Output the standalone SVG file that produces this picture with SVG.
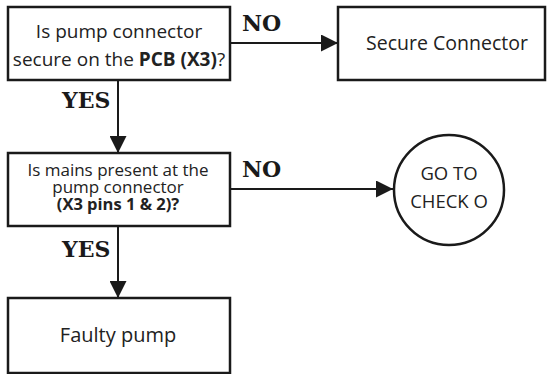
<svg xmlns="http://www.w3.org/2000/svg" width="556" height="374" viewBox="0 0 556 374">
<style>
.box{fill:#fff;stroke:#1a1a1a;stroke-width:2.5}
.ln{stroke:#1a1a1a;stroke-width:2;fill:none}
.t{font-family:"Open Sans","Noto Sans",sans-serif;font-size:19px;fill:#222;text-anchor:middle}
.b{font-weight:bold}
.lab{font-family:"DejaVu Serif","Liberation Serif",serif;font-weight:bold;font-size:22px;fill:#1a1a1a}
</style>
<defs>
<marker id="ah" viewBox="0 0 10 10" refX="10" refY="5" markerWidth="17" markerHeight="17" markerUnits="userSpaceOnUse" orient="auto">
<path d="M0,0 L10,5 L0,10 Z" fill="#1a1a1a"/>
</marker>
</defs>
<g id="connectors">
<line class="ln" x1="230" y1="43" x2="338" y2="43" marker-end="url(#ah)"/>
<line class="ln" x1="118" y1="80" x2="118" y2="153" marker-end="url(#ah)"/>
<line class="ln" x1="230" y1="189" x2="393" y2="189" marker-end="url(#ah)"/>
<line class="ln" x1="118" y1="226" x2="118" y2="298" marker-end="url(#ah)"/>
<text class="lab" x="242" y="31">NO</text>
<text class="lab" x="62" y="108">YES</text>
<text class="lab" x="242" y="177">NO</text>
<text class="lab" x="62" y="257">YES</text>
</g>
<g id="q1">
<rect class="box" x="8" y="7" width="222" height="73"/>
<text class="t" x="119" y="38">Is pump connector</text>
<text class="t" x="119" y="66">secure on the <tspan class="b">PCB (X3)</tspan>?</text>
</g>
<g id="secure">
<rect class="box" x="338" y="7" width="207" height="73"/>
<text class="t" x="447" y="50" style="font-size:19.5px">Secure Connector</text>
</g>
<g id="q2">
<rect class="box" x="8" y="153" width="222" height="73"/>
<text class="t" x="118" y="176" style="font-size:17px">Is mains present at the</text>
<text class="t" x="118" y="193" style="font-size:17px">pump connector</text>
<text class="t b" x="118" y="210" style="font-size:16.5px">(X3 pins 1 &amp; 2)?</text>
</g>
<g id="check">
<circle class="box" cx="449" cy="190" r="55"/>
<text class="t" x="449" y="180" style="font-size:18.5px">GO TO</text>
<text class="t" x="449" y="208" style="font-size:18.5px">CHECK O</text>
</g>
<g id="faulty">
<rect class="box" x="8" y="298" width="222" height="75"/>
<text class="t" x="118" y="342" style="font-size:20px">Faulty pump</text>
</g>
</svg>
